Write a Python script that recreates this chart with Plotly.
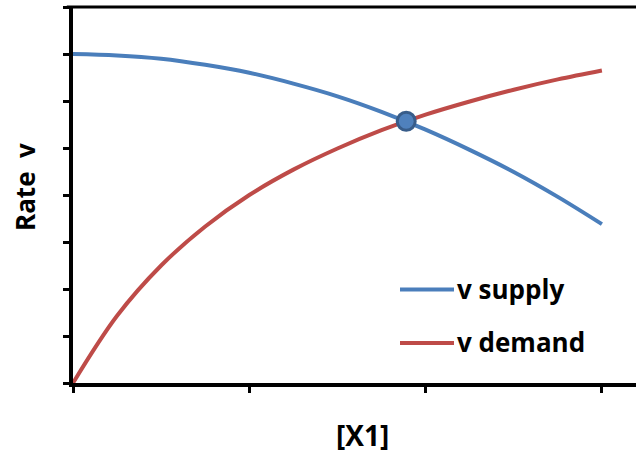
import plotly.graph_objects as go

# Data
x_vals = [0, 0.25, 0.5, 0.75, 1.0, 1.25, 1.5, 1.75, 2.0, 2.25, 2.5, 2.75, 3.0]
v_supply = [7.00, 6.97, 6.90, 6.77, 6.60, 6.37, 6.10, 5.77, 5.39, 4.96, 4.49, 3.96, 3.38]
v_demand = [0.00, 1.43, 2.50, 3.33, 4.00, 4.54, 4.99, 5.38, 5.71, 5.99, 6.24, 6.46, 6.65]
cross_x = [1.89]
cross_y = [5.57]
series_names = ["v supply", "v demand"]
x_title = "[X1]"
y_title = "Rate  v"

BLUE = "#4A7EBB"
RED = "#BE4B48"
FONT = "Open Sans"

fig = go.Figure()
fig.add_trace(go.Scatter(x=x_vals, y=v_supply, mode="lines", name=series_names[0],
                         line=dict(color=BLUE, width=4, shape="spline"), showlegend=False))
fig.add_trace(go.Scatter(x=x_vals, y=v_demand, mode="lines", name=series_names[1],
                         line=dict(color=RED, width=4, shape="spline"), showlegend=False))
fig.add_trace(go.Scatter(x=cross_x, y=cross_y, mode="markers", showlegend=False,
                         marker=dict(size=18, color="#4F81BD",
                                     line=dict(color="#385D8A", width=3))))

L, T, B = 73, 7, 76
W, H = 636, 459
pw = W - L
ph = H - T - B

def px(xp):
    return (xp - L) / pw

def py(yp):
    return (T + ph - yp) / ph

# manual legend
legend_rows = [(289.5, BLUE, series_names[0]), (343, RED, series_names[1])]
for yp, col, name in legend_rows:
    fig.add_shape(type="line", xref="paper", yref="paper",
                  x0=px(400), x1=px(454), y0=py(yp), y1=py(yp),
                  line=dict(color=col, width=4))
    fig.add_annotation(xref="paper", yref="paper", x=px(455), y=py(yp - 1),
                       text=f"<b>{name}</b>", showarrow=False, xanchor="left",
                       yanchor="middle", font=dict(family=FONT, size=26, color="black"))

# top border line
fig.add_shape(type="line", xref="paper", yref="paper", x0=-0.011, x1=1, y0=1, y1=1,
              line=dict(color="black", width=3))

fig.add_annotation(xref="paper", yref="paper", x=px(362), y=py(435), text=f"<b>{x_title}</b>",
                   showarrow=False, xanchor="center", yanchor="middle",
                   font=dict(family=FONT, size=28, color="black"))
fig.add_annotation(xref="paper", yref="paper", x=px(25), y=py(187), text=f"<b>{y_title}</b>",
                   showarrow=False, xanchor="center", yanchor="middle", textangle=-90,
                   font=dict(family=FONT, size=26, color="black"))

fig.update_layout(
    width=W, height=H,
    margin=dict(l=L, r=0, t=T, b=B),
    paper_bgcolor="white", plot_bgcolor="white",
    xaxis=dict(range=[0, pw / 176.3], tickvals=[0, 1, 2, 3], showticklabels=False,
               ticks="outside", ticklen=6, tickwidth=3, tickcolor="black",
               showline=True, linecolor="black", linewidth=3.5,
               showgrid=False, zeroline=False, fixedrange=True),
    yaxis=dict(range=[0, 8], dtick=1, tick0=0, showticklabels=False,
               ticks="outside", ticklen=6, tickwidth=3, tickcolor="black",
               showline=True, linecolor="black", linewidth=3.5,
               showgrid=False, zeroline=False, fixedrange=True),
)

fig.write_html("out.html")
